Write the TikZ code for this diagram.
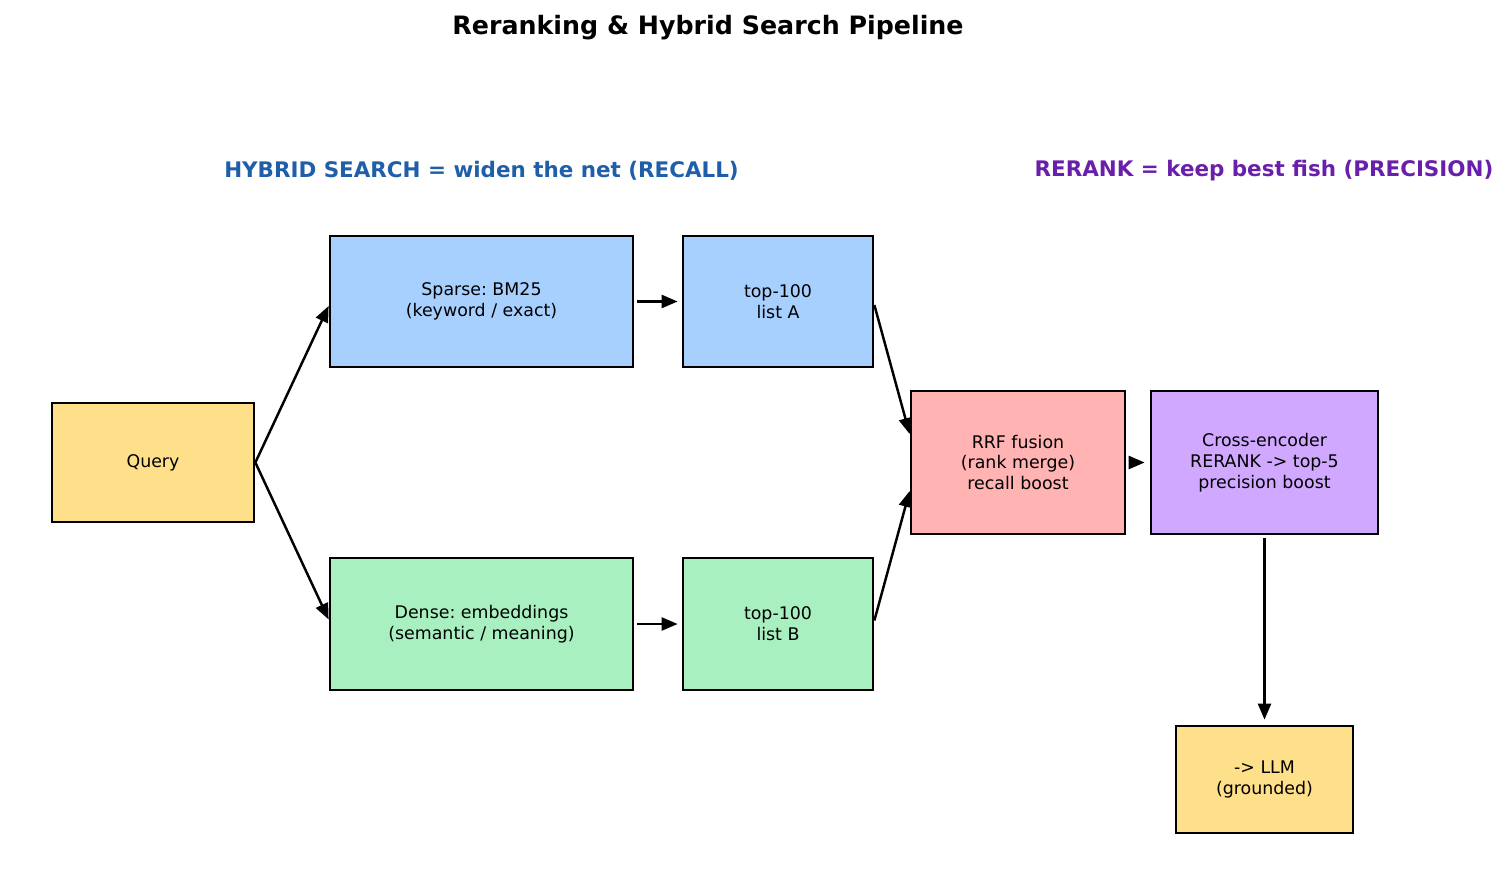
\documentclass[tikz,border=0pt]{standalone}
\usepackage{fontspec}
\setmainfont{DejaVu Sans}
\frenchspacing
\usetikzlibrary{arrows.meta}
\definecolor{qyellow}{HTML}{FFE08A}
\definecolor{sblue}{HTML}{A8D0FF}
\definecolor{dgreen}{HTML}{A8F0C0}
\definecolor{fpink}{HTML}{FFB3B3}
\definecolor{rpurple}{HTML}{D1A8FF}
\definecolor{hblue}{HTML}{1F5FAA}
\definecolor{hpurple}{HTML}{6A1FAA}
\begin{document}
\begin{tikzpicture}[
            box/.style={
                rectangle,
                draw,
                line width=1.55pt,
                align=center,
                font=\fontsize{9.9}{11.9}\selectfont,
                inner sep=0pt
            },
            arr/.style={
                -{Triangle[length=0.32cm,width=0.26cm]},
                line width=1.4pt
            },
            head/.style={
                font=\fontsize{12.2}{14}\selectfont\bfseries
            }
        ]
            \useasboundingbox (0,0) rectangle (30.14,-17.9);

            \node[font=\fontsize{14.4}{16}\selectfont\bfseries] (title) at (14.16,-0.56) {Reranking \& Hybrid Search Pipeline};
            \node[head, text=hblue] (hybrid) at (9.63,-3.42) {HYBRID SEARCH = widen the net (RECALL)};
            \node[head, text=hpurple] (rerank) at (25.28,-3.42) {RERANK = keep best fish (PRECISION)};

            \node[box, fill=qyellow, minimum width=4.04cm, minimum height=2.38cm] (query) at (3.06,-9.25) {Query};
            \node[box, fill=sblue, minimum width=6.06cm, minimum height=2.62cm] (sparse) at (9.63,-6.03) {Sparse: BM25\\(keyword / exact)};
            \node[box, fill=sblue, minimum width=3.80cm, minimum height=2.62cm] (lista) at (15.56,-6.03) {top-100\\list A};
            \node[box, fill=dgreen, minimum width=6.06cm, minimum height=2.64cm] (dense) at (9.63,-12.48) {Dense: embeddings\\(semantic / meaning)};
            \node[box, fill=dgreen, minimum width=3.80cm, minimum height=2.64cm] (listb) at (15.56,-12.48) {top-100\\list B};
            \node[box, fill=fpink, minimum width=4.28cm, minimum height=2.86cm] (rrf) at (20.36,-9.25) {RRF fusion\\(rank merge)\\recall boost};
            \node[box, fill=rpurple, minimum width=4.54cm, minimum height=2.86cm] (cross) at (25.29,-9.25) {Cross-encoder\\RERANK -> top-5\\precision boost};
            \node[box, fill=qyellow, minimum width=3.54cm, minimum height=2.14cm] (llm) at (25.29,-15.59) {-> LLM\\(grounded)};

            \draw[arr] (query.east) -- ([yshift=-0.09cm]sparse.west);
            \draw[arr] (query.east) -- ([yshift=0.09cm]dense.west);
            \draw[arr, shorten <=0.06cm, shorten >=0.08cm] (sparse) -- (lista);
            \draw[arr, shorten <=0.06cm, shorten >=0.08cm] (dense) -- (listb);
            \draw[arr] ([yshift=-0.07cm]lista.east) -- ([yshift=0.57cm]rrf.west);
            \draw[arr] ([yshift=0.07cm]listb.east) -- ([yshift=-0.57cm]rrf.west);
            \draw[arr, shorten <=0.06cm, shorten >=0.1cm] (rrf) -- (cross);
            \draw[arr, shorten <=0.06cm, shorten >=0.1cm] (cross) -- (llm);
        \end{tikzpicture}
\end{document}
